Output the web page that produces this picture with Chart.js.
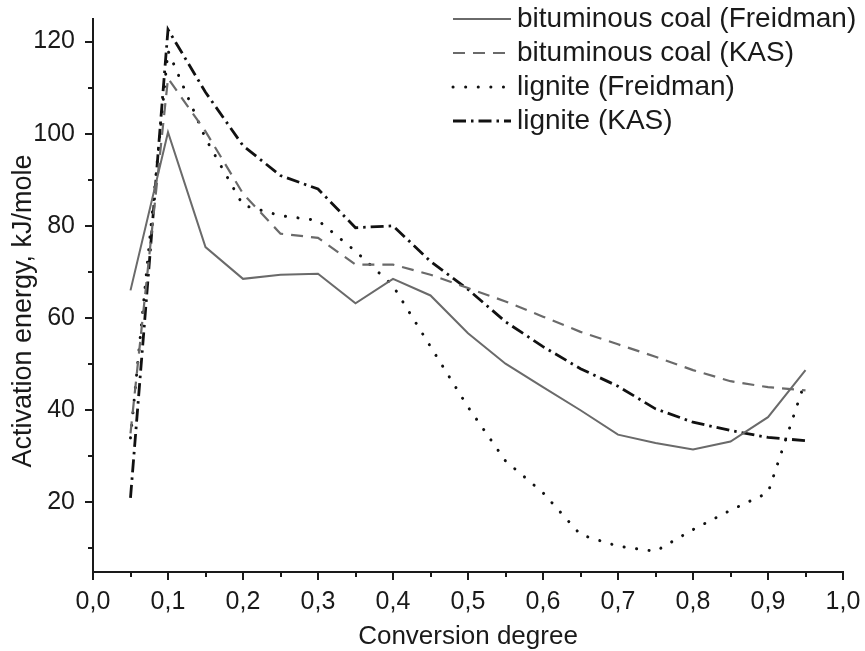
<!DOCTYPE html>
<html>
<head>
<meta charset="utf-8">
<script src="https://cdn.jsdelivr.net/npm/chart.js@4.4.0/dist/chart.umd.min.js"></script>
<style>
html, body { margin: 0; padding: 0; background: #fff; }
#wrap { width: 865px; height: 651px; position: relative; }
</style>
</head>
<body>
<div id="wrap"><canvas id="c"></canvas></div>
<script>
// conversion degree (x)
var conversion = [0.05, 0.10, 0.15, 0.20, 0.25, 0.30, 0.35, 0.40, 0.45, 0.50,
                  0.55, 0.60, 0.65, 0.70, 0.75, 0.80, 0.85, 0.90, 0.95];

// activation energy, kJ/mole
var bitFreidman = [66, 100.3, 75.4, 68.5, 69.4, 69.6, 63.2, 68.5, 64.9, 56.7,
                   50.1, 45, 40, 34.7, 32.9, 31.5, 33.2, 38.5, 48.7];
var bitKAS      = [35, 112, 100.5, 87, 78.3, 77.4, 71.6, 71.6, 69.4, 66.5,
                   63.6, 60.3, 57, 54.3, 51.6, 48.7, 46.3, 45, 44.3];
var ligFreidman = [34, 118, 99, 84.5, 82.2, 81.2, 74.5, 67, 53.8, 40.7,
                   29, 22.1, 13, 10.5, 9.4, 14.1, 18.3, 22.1, 46.5];
var ligKAS      = [21, 122.6, 109, 97.4, 90.9, 88, 79.6, 80, 72.3, 66.2,
                   59.2, 53.8, 49, 45.2, 40.3, 37.4, 35.6, 34.1, 33.4];

var seriesNames = ['bituminous coal (Freidman)', 'bituminous coal (KAS)',
                   'lignite (Freidman)', 'lignite (KAS)'];

var xTicks = [0, 0.05, 0.1, 0.15, 0.2, 0.25, 0.3, 0.35, 0.4, 0.45, 0.5,
              0.55, 0.6, 0.65, 0.7, 0.75, 0.8, 0.85, 0.9, 0.95, 1.0];
var yTicks = [10, 20, 30, 40, 50, 60, 70, 80, 90, 100, 110, 120];

var FONT = '"Liberation Sans", Arial, sans-serif';
var INK = '#1a1a1a';

function pts(arr) {
    return arr.map(function(v, i){ return {x: conversion[i], y: v}; });
}

function isMajorX(v) { return Math.round(v * 100) % 10 === 0; }
function isMajorY(v) { return Math.round(v) % 20 === 0; }

var axisMarks = {
    id: 'axisMarks',
    afterDraw: function(chart) {
        var ctx = chart.ctx;
        var xs = chart.scales.x, ys = chart.scales.y;
        var a = chart.chartArea;
        ctx.save();
        ctx.strokeStyle = INK;
        ctx.lineWidth = 2;
        ctx.lineCap = 'butt';
        ctx.beginPath();
        // axis lines
        ctx.moveTo(a.left, a.top);
        ctx.lineTo(a.left, a.bottom);
        ctx.moveTo(a.left - 1, a.bottom);
        ctx.lineTo(a.right + 1, a.bottom);
        xs.ticks.forEach(function(t){
            var px = Math.round(xs.getPixelForValue(t.value));
            var len = isMajorX(t.value) ? 8 : 5;
            ctx.moveTo(px, a.bottom);
            ctx.lineTo(px, a.bottom + len);
        });
        ys.ticks.forEach(function(t){
            var py = Math.round(ys.getPixelForValue(t.value));
            var len = isMajorY(t.value) ? 8 : 5;
            ctx.moveTo(a.left, py);
            ctx.lineTo(a.left - len, py);
        });
        ctx.stroke();

        // y axis title
        ctx.fillStyle = INK;
        ctx.font = '27px ' + FONT;
        ctx.textAlign = 'center';
        ctx.textBaseline = 'middle';
        ctx.translate(24, 311);
        ctx.rotate(-Math.PI / 2);
        ctx.fillText('Activation energy, kJ/mole', 0, 0);
        ctx.restore();

        // legend
        ctx.save();
        ctx.font = '28px ' + FONT;
        ctx.textAlign = 'left';
        ctx.textBaseline = 'middle';
        chart.data.datasets.forEach(function(ds, i){
            var y = 19 + i * 34;
            ctx.strokeStyle = ds.borderColor;
            ctx.lineWidth = ds.borderWidth;
            ctx.lineCap = ds.borderCapStyle || 'butt';
            ctx.setLineDash(ds.borderDash || []);
            ctx.beginPath();
            ctx.moveTo(453, y);
            ctx.lineTo(511, y);
            ctx.stroke();
            ctx.setLineDash([]);
            ctx.fillStyle = INK;
            ctx.fillText(ds.label, 517, y);
        });
        ctx.restore();
    }
};

var config = {
    type: 'line',
    data: {
        datasets: [
            { label: seriesNames[0], data: pts(bitFreidman), borderColor: '#6a6a6a', borderWidth: 2 },
            { label: seriesNames[1], data: pts(bitKAS), borderColor: '#6a6a6a', borderWidth: 2.2, borderDash: [12, 8] },
            { label: seriesNames[2], data: pts(ligFreidman), borderColor: '#111', borderWidth: 3, borderDash: [0.1, 12.5], borderCapStyle: 'round' },
            { label: seriesNames[3], data: pts(ligKAS), borderColor: '#111', borderWidth: 2.8, borderDash: [13, 5, 2.5, 5] }
        ]
    },
    options: {
        responsive: true,
        maintainAspectRatio: false,
        animation: false,
        devicePixelRatio: 1,
        layout: { padding: { top: 18, right: 22, left: 0, bottom: 0 } },
        elements: {
            point: { radius: 0 },
            line: { tension: 0, fill: false }
        },
        plugins: {
            legend: { display: false },
            tooltip: { enabled: false }
        },
        scales: {
            x: {
                type: 'linear',
                min: 0,
                max: 1,
                afterBuildTicks: function(scale){
                    scale.ticks = xTicks.map(function(v){ return {value: v}; });
                },
                afterFit: function(scale){ scale.height = 79; },
                // tick marks are drawn by axisMarks; the grid only reserves room
                grid: { display: true, drawOnChartArea: false, tickLength: 15, tickColor: 'rgba(0,0,0,0)' },
                border: { display: false },
                ticks: {
                    autoSkip: false,
                    maxRotation: 0,
                    padding: 0,
                    color: INK,
                    font: { family: FONT, size: 25 },
                    callback: function(v){ return isMajorX(v) ? v.toFixed(1).replace('.', ',') : ''; }
                },
                title: {
                    display: true,
                    text: 'Conversion degree',
                    color: INK,
                    font: { family: FONT, size: 26 },
                    padding: { top: 0, bottom: -1 }
                }
            },
            y: {
                min: 4.9,
                max: 125.1,
                afterBuildTicks: function(scale){
                    scale.ticks = yTicks.map(function(v){ return {value: v}; });
                },
                afterFit: function(scale){ scale.width = 93; },
                grid: { display: true, drawOnChartArea: false, tickLength: 18, tickColor: 'rgba(0,0,0,0)' },
                border: { display: false },
                ticks: {
                    autoSkip: false,
                    padding: 0,
                    color: INK,
                    font: { family: FONT, size: 25 },
                    callback: function(v){ return isMajorY(v) ? String(v) : ''; }
                }
            }
        }
    },
    plugins: [axisMarks]
};

window.chart = new Chart(document.getElementById('c').getContext('2d'), config);
</script>
</body>
</html>
